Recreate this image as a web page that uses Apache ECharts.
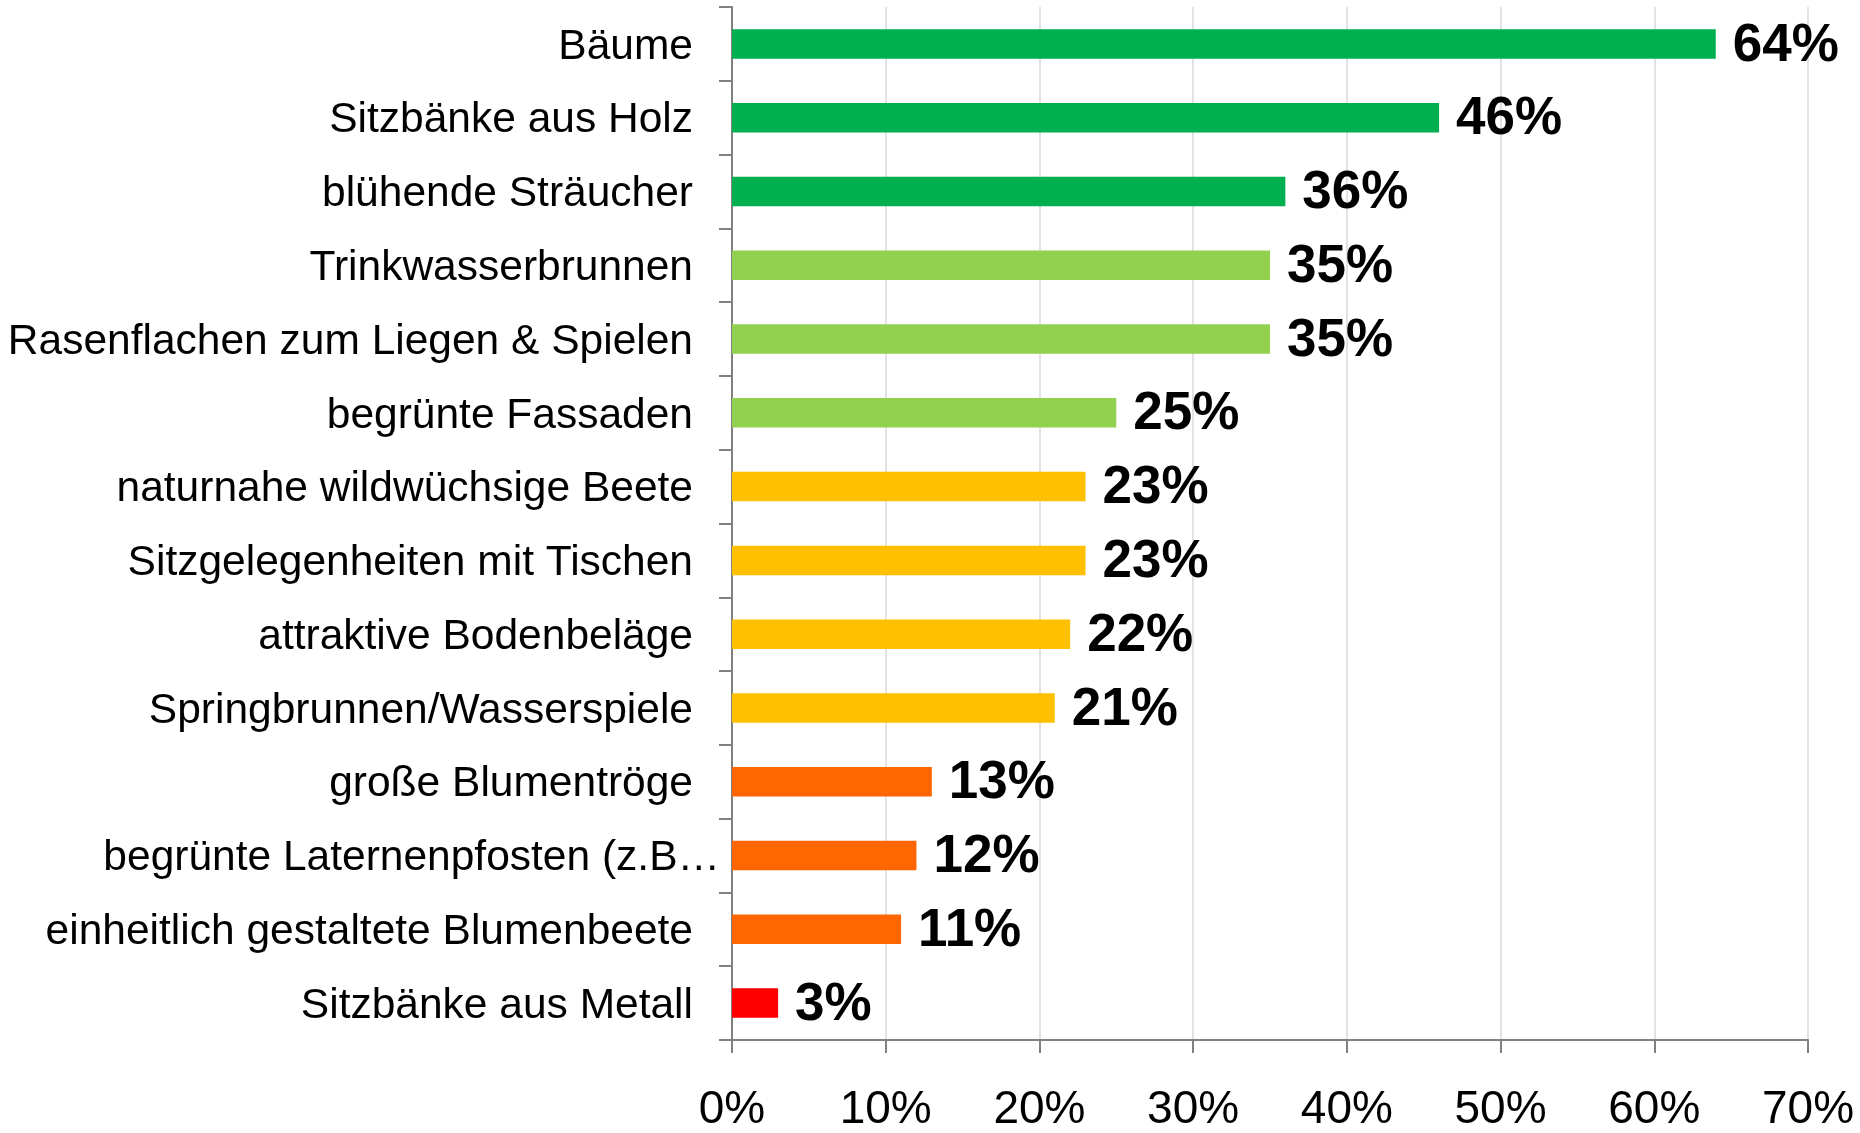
<!DOCTYPE html>
<html>
<head>
<meta charset="utf-8">
<script src="https://cdn.jsdelivr.net/npm/echarts@6/dist/echarts.min.js"></script>
<style>
  html, body { margin: 0; padding: 0; background: #fff; }
  #main { width: 1860px; height: 1133px; }
</style>
</head>
<body>
<div id="main"></div>
<script>
  // Kategorien von oben nach unten
  var categories = [
    'Bäume',
    'Sitzbänke aus Holz',
    'blühende Sträucher',
    'Trinkwasserbrunnen',
    'Rasenflachen zum Liegen & Spielen',
    'begrünte Fassaden',
    'naturnahe wildwüchsige Beete',
    'Sitzgelegenheiten mit Tischen',
    'attraktive Bodenbeläge',
    'Springbrunnen/Wasserspiele',
    'große Blumentröge',
    'begrünte Laternenpfosten (z.B…',
    'einheitlich gestaltete Blumenbeete',
    'Sitzbänke aus Metall'
  ];
  // Anteil in %
  var values = [64, 46, 36, 35, 35, 25, 23, 23, 22, 21, 13, 12, 11, 3];
  var xTicks = [0, 10, 20, 30, 40, 50, 60, 70];

  var barColors = [
    '#00B050', '#00B050', '#00B050',
    '#92D050', '#92D050', '#92D050',
    '#FFC000', '#FFC000', '#FFC000', '#FFC000',
    '#FF6600', '#FF6600', '#FF6600',
    '#FF0000'
  ];

  var myChart = echarts.init(document.getElementById('main'));

  var option = {
    animation: false,
    textStyle: { fontFamily: '"Liberation Sans", Arial, sans-serif' },
    grid: { left: 732, top: 7, right: 52, bottom: 92 },
    xAxis: {
      type: 'value',
      min: xTicks[0],
      max: xTicks[xTicks.length - 1],
      interval: 10,
      axisLine: { show: true, lineStyle: { color: '#808080', width: 2 } },
      axisTick: { show: true, length: 13, lineStyle: { color: '#808080', width: 2 } },
      splitLine: { show: true, lineStyle: { color: '#D9D9D9', width: 1.5 } },
      axisLabel: {
        color: '#000', fontSize: 46, margin: 47,
        formatter: '{value}%'
      }
    },
    yAxis: {
      type: 'category',
      inverse: true,
      data: categories,
      axisLine: { show: true, lineStyle: { color: '#808080', width: 2 } },
      axisTick: { show: true, length: 13, lineStyle: { color: '#808080', width: 2 } },
      axisLabel: {
        color: '#000', fontSize: 42, margin: 12,
        formatter: function (v) {
          // abgeschnittene Beschriftung ragt weiter nach rechts
          return v.indexOf('…') >= 0 ? '{t|' + v + '}' : '{n|' + v + '}';
        },
        rich: {
          n: { fontSize: 42.5, color: '#000', padding: [6, 27, 0, 0] },
          t: { fontSize: 42.5, color: '#000', padding: [6, 0, 0, 0] }
        }
      }
    },
    series: [
      {
        type: 'bar',
        barCategoryGap: '60%',
        data: values.map(function (v, i) {
          return { value: v, itemStyle: { color: barColors[i] } };
        }),
        label: {
          show: true,
          position: 'right',
          distance: 17,
          offset: [0, 2],
          color: '#000',
          fontSize: 53,
          fontWeight: 'bold',
          formatter: '{c}%'
        }
      }
    ]
  };

  myChart.setOption(option);
</script>
</body>
</html>
